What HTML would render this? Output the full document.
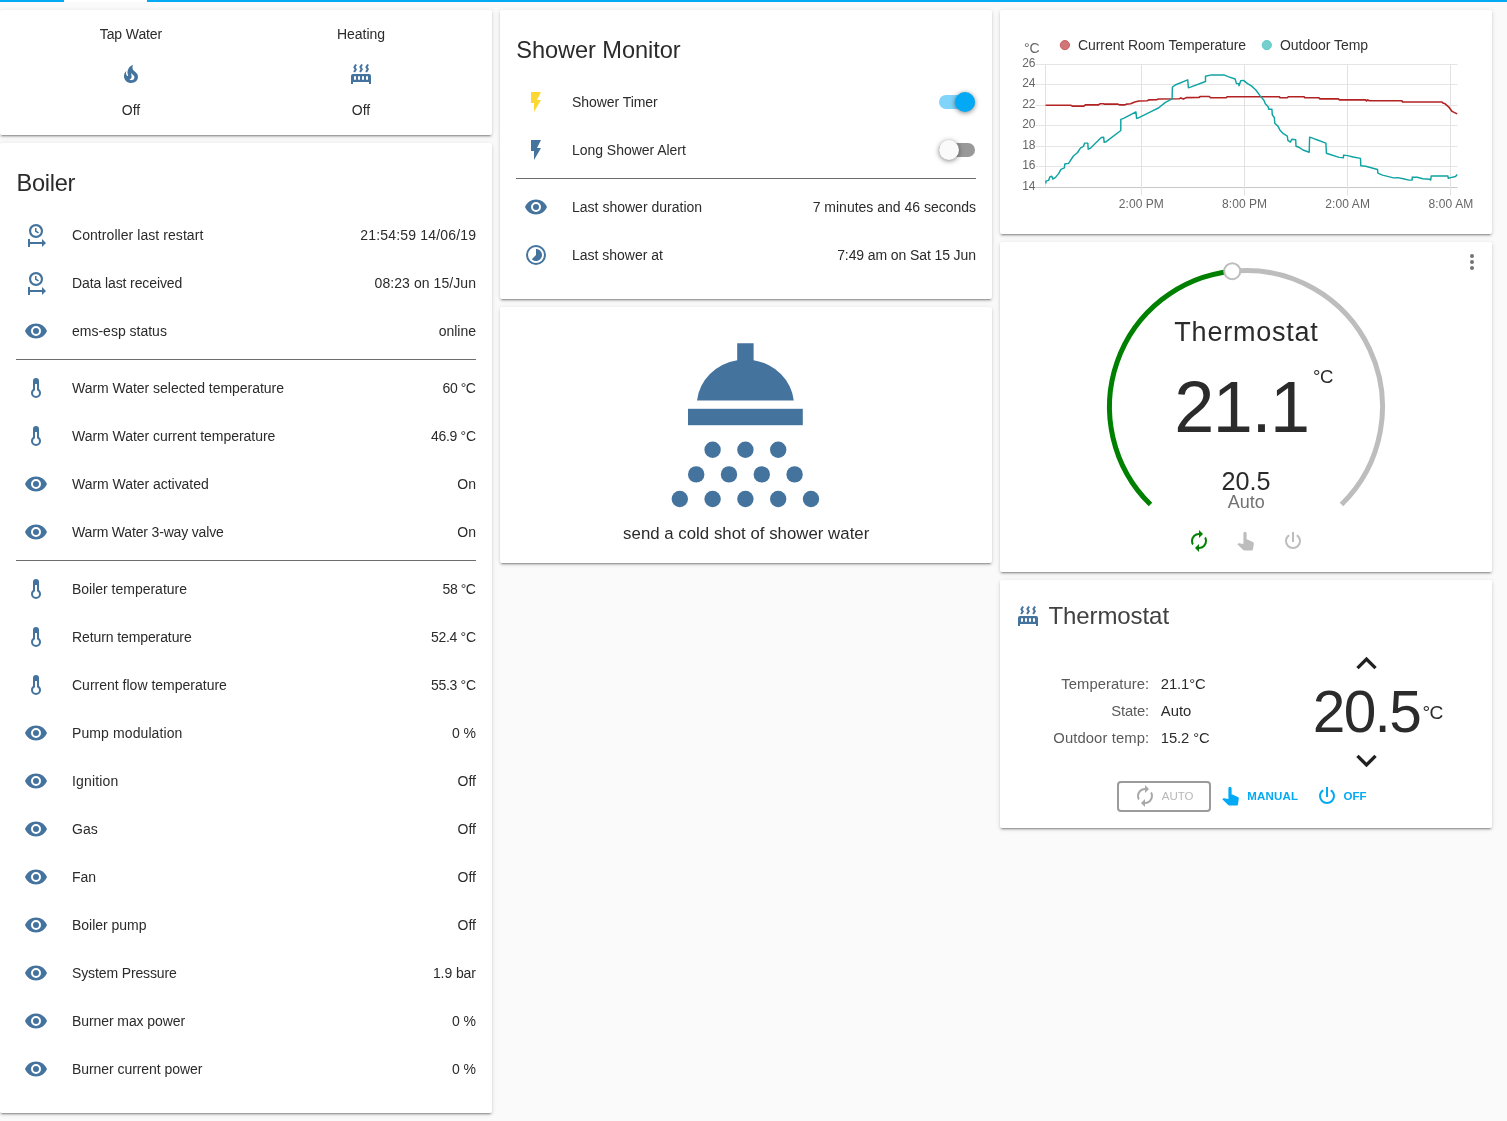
<!DOCTYPE html><html lang="en"><head><meta charset="utf-8"><title>Home Assistant - Boiler</title><style>
*{box-sizing:border-box;margin:0;padding:0}
html,body{width:1507px;height:1121px;overflow:hidden;background:#fafafa}
body{font-family:"Liberation Sans",sans-serif;position:relative;-webkit-font-smoothing:antialiased}
.bar{position:absolute;left:0;top:0;width:1507px;height:2px;background:#03a9f4}
.bar i{position:absolute;left:64px;top:0;width:83px;height:2px;background:#fff}
.card{position:absolute;background:#fff;border-radius:2px;box-shadow:0 2px 2px 0 rgba(0,0,0,.14),0 1px 5px 0 rgba(0,0,0,.12),0 3px 1px -2px rgba(0,0,0,.2)}
.t{position:absolute;white-space:nowrap}
.ic{position:absolute;display:block}
.hr{position:absolute;height:1px}
h2.t{font-weight:400}
.tg{position:absolute;width:36px;height:14px}
.tg i{position:absolute;left:0;top:0;width:36px;height:14px;border-radius:8px}
.tg b{position:absolute;top:-3px;width:20px;height:20px;border-radius:50%;box-shadow:0 1px 5px 0 rgba(0,0,0,.5)}
.btn{position:absolute;border:2px solid #9b9b9b;border-radius:4px}
</style></head><body>
<header class="bar"><i></i></header>
<section class="card glance" style="left:0px;top:10px;width:492px;height:125px">
<span class="t " style="top:14.80px;font-size:14px;line-height:18px;color:#2b2b2b;letter-spacing:-0.109px;left:130.945px;transform:translateX(-50%);">Tap Water</span>
<svg class="ic" style="left:119px;top:52px;width:24px;height:24px" viewBox="0 0 24 24"><path fill="#44739e" d="M17.66,11.2C17.43,10.9 17.15,10.64 16.89,10.38C16.22,9.78 15.46,9.35 14.82,8.72C13.33,7.26 13,4.85 13.95,3C13,3.23 12.17,3.75 11.46,4.32C8.87,6.4 7.85,10.07 9.07,13.22C9.11,13.32 9.15,13.42 9.15,13.55C9.15,13.77 9,13.97 8.8,14.05C8.57,14.15 8.33,14.09 8.14,13.93C8.08,13.88 8.04,13.83 8,13.76C6.87,12.33 6.69,10.28 7.45,8.64C5.78,10 4.87,12.3 5,14.47C5.06,14.97 5.12,15.47 5.29,15.97C5.43,16.57 5.7,17.17 6,17.7C7.08,19.43 8.95,20.67 10.96,20.92C13.1,21.19 15.39,20.8 17.03,19.32C18.86,17.66 19.5,15 18.56,12.72L18.43,12.46C18.22,12 17.66,11.2 17.66,11.2M14.5,17.5C14.22,17.74 13.76,18 13.4,18.1C12.28,18.5 11.16,17.94 10.5,17.28C11.69,17 12.4,16.12 12.61,15.23C12.78,14.43 12.46,13.77 12.33,13C12.21,12.26 12.23,11.63 12.5,10.94C12.69,11.32 12.89,11.7 13.13,12C13.9,13 15.11,13.44 15.37,14.8C15.41,14.94 15.43,15.08 15.43,15.23C15.46,16.05 15.1,16.95 14.5,17.5H14.5Z"/></svg>
<span class="t " style="top:90.50px;font-size:14px;line-height:18px;color:#2b2b2b;left:131px;transform:translateX(-50%);">Off</span>
<span class="t " style="top:14.80px;font-size:14px;line-height:18px;color:#2b2b2b;letter-spacing:-0.009px;left:360.995px;transform:translateX(-50%);">Heating</span>
<svg class="ic" style="left:349px;top:52px;width:24px;height:24px" viewBox="0 0 24 24"><path fill="#44739e" d="M7.95,3L6.53,5.19L7.95,7.4H7.94L5.95,10.5L4.22,9.6L5.64,7.39L4.22,5.19L6.22,2.09L7.95,3M13.95,2.89L12.53,5.1L13.95,7.3L13.94,7.31L11.95,10.4L10.22,9.5L11.64,7.3L10.22,5.1L12.22,2L13.95,2.89M20,2.89L18.56,5.1L20,7.3V7.31L18,10.4L16.25,9.5L17.67,7.3L16.25,5.1L18.25,2L20,2.89M2,22V14A2,2 0 0,1 4,12H20A2,2 0 0,1 22,14V22H20V20H4V22H2M6,14A1,1 0 0,0 5,15V17A1,1 0 0,0 6,18A1,1 0 0,0 7,17V15A1,1 0 0,0 6,14M10,14A1,1 0 0,0 9,15V17A1,1 0 0,0 10,18A1,1 0 0,0 11,17V15A1,1 0 0,0 10,14M14,14A1,1 0 0,0 13,15V17A1,1 0 0,0 14,18A1,1 0 0,0 15,17V15A1,1 0 0,0 14,14M18,14A1,1 0 0,0 17,15V17A1,1 0 0,0 18,18A1,1 0 0,0 19,17V15A1,1 0 0,0 18,14Z"/></svg>
<span class="t " style="top:90.50px;font-size:14px;line-height:18px;color:#2b2b2b;left:361px;transform:translateX(-50%);">Off</span>
</section>
<section class="card entities" style="left:0px;top:143px;width:492px;height:970px">
<h2 class="t " style="top:25.00px;font-size:23.6px;line-height:31px;color:#2b2b2b;letter-spacing:-0.271px;left:16.5px;">Boiler</h2>
<svg class="ic" style="left:24px;top:80px;width:24px;height:24px" viewBox="0 0 24 24"><path fill="#44739e" d="M12,1C8.14,1 5,4.14 5,8A7,7 0 0,0 12,15C15.86,15 19,11.86 19,8C19,4.14 15.86,1 12,1M12,3.15C14.67,3.15 16.85,5.32 16.85,8C16.85,10.68 14.67,12.85 12,12.85A4.85,4.85 0 0,1 7.15,8A4.85,4.85 0 0,1 12,3.15M11,5V8.69L14.19,10.53L14.94,9.23L12.5,7.82V5M4,16V24H6V21H18V24L22,20L18,16V19H6V16"/></svg>
<span class="t " style="top:83.00px;font-size:14px;line-height:18px;color:#2b2b2b;letter-spacing:0.064px;left:72px;">Controller last restart</span>
<span class="t " style="top:83.00px;font-size:14px;line-height:18px;color:#2b2b2b;letter-spacing:0.171px;left:476.171px;transform:translateX(-100%);">21:54:59 14/06/19</span>
<svg class="ic" style="left:24px;top:128px;width:24px;height:24px" viewBox="0 0 24 24"><path fill="#44739e" d="M12,1C8.14,1 5,4.14 5,8A7,7 0 0,0 12,15C15.86,15 19,11.86 19,8C19,4.14 15.86,1 12,1M12,3.15C14.67,3.15 16.85,5.32 16.85,8C16.85,10.68 14.67,12.85 12,12.85A4.85,4.85 0 0,1 7.15,8A4.85,4.85 0 0,1 12,3.15M11,5V8.69L14.19,10.53L14.94,9.23L12.5,7.82V5M4,16V24H6V21H18V24L22,20L18,16V19H6V16"/></svg>
<span class="t " style="top:131.00px;font-size:14px;line-height:18px;color:#2b2b2b;letter-spacing:-0.103px;left:72px;">Data last received</span>
<span class="t " style="top:131.00px;font-size:14px;line-height:18px;color:#2b2b2b;letter-spacing:0.072px;left:476.072px;transform:translateX(-100%);">08:23 on 15/Jun</span>
<svg class="ic" style="left:24px;top:176px;width:24px;height:24px" viewBox="0 0 24 24"><path fill="#44739e" d="M12,9A3,3 0 0,0 9,12A3,3 0 0,0 12,15A3,3 0 0,0 15,12A3,3 0 0,0 12,9M12,17A5,5 0 0,1 7,12A5,5 0 0,1 12,7A5,5 0 0,1 17,12A5,5 0 0,1 12,17M12,4.5C7,4.5 2.73,7.61 1,12C2.73,16.39 7,19.5 12,19.5C17,19.5 21.27,16.39 23,12C21.27,7.61 17,4.5 12,4.5Z"/></svg>
<span class="t " style="top:179.00px;font-size:14px;line-height:18px;color:#2b2b2b;letter-spacing:-0.003px;left:72px;">ems-esp status</span>
<span class="t " style="top:179.00px;font-size:14px;line-height:18px;color:#2b2b2b;letter-spacing:-0.029px;left:475.971px;transform:translateX(-100%);">online</span>
<div class="hr" style="left:16px;top:216px;width:460px;background:#6d6d6d"></div>
<svg class="ic" style="left:24px;top:233px;width:24px;height:24px" viewBox="0 0 24 24"><path fill="#44739e" d="M17,17A5,5 0 0,1 12,22A5,5 0 0,1 7,17C7,15.36 7.79,13.91 9,13V5A3,3 0 0,1 12,2A3,3 0 0,1 15,5V13C16.21,13.91 17,15.36 17,17M11,8V14.17C9.83,14.58 9,15.69 9,17A3,3 0 0,0 12,20A3,3 0 0,0 15,17C15,15.69 14.17,14.58 13,14.17V8H11Z"/></svg>
<span class="t " style="top:236.00px;font-size:14px;line-height:18px;color:#2b2b2b;letter-spacing:-0.030px;left:72px;">Warm Water selected temperature</span>
<span class="t " style="top:236.00px;font-size:14px;line-height:18px;color:#2b2b2b;letter-spacing:-0.434px;left:475.566px;transform:translateX(-100%);">60 °C</span>
<svg class="ic" style="left:24px;top:281px;width:24px;height:24px" viewBox="0 0 24 24"><path fill="#44739e" d="M17,17A5,5 0 0,1 12,22A5,5 0 0,1 7,17C7,15.36 7.79,13.91 9,13V5A3,3 0 0,1 12,2A3,3 0 0,1 15,5V13C16.21,13.91 17,15.36 17,17M11,8V14.17C9.83,14.58 9,15.69 9,17A3,3 0 0,0 12,20A3,3 0 0,0 15,17C15,15.69 14.17,14.58 13,14.17V8H11Z"/></svg>
<span class="t " style="top:284.00px;font-size:14px;line-height:18px;color:#2b2b2b;letter-spacing:-0.035px;left:72px;">Warm Water current temperature</span>
<span class="t " style="top:284.00px;font-size:14px;line-height:18px;color:#2b2b2b;letter-spacing:-0.323px;left:475.677px;transform:translateX(-100%);">46.9 °C</span>
<svg class="ic" style="left:24px;top:329px;width:24px;height:24px" viewBox="0 0 24 24"><path fill="#44739e" d="M12,9A3,3 0 0,0 9,12A3,3 0 0,0 12,15A3,3 0 0,0 15,12A3,3 0 0,0 12,9M12,17A5,5 0 0,1 7,12A5,5 0 0,1 12,7A5,5 0 0,1 17,12A5,5 0 0,1 12,17M12,4.5C7,4.5 2.73,7.61 1,12C2.73,16.39 7,19.5 12,19.5C17,19.5 21.27,16.39 23,12C21.27,7.61 17,4.5 12,4.5Z"/></svg>
<span class="t " style="top:332.00px;font-size:14px;line-height:18px;color:#2b2b2b;letter-spacing:-0.037px;left:72px;">Warm Water activated</span>
<span class="t " style="top:332.00px;font-size:14px;line-height:18px;color:#2b2b2b;left:476px;transform:translateX(-100%);">On</span>
<svg class="ic" style="left:24px;top:377px;width:24px;height:24px" viewBox="0 0 24 24"><path fill="#44739e" d="M12,9A3,3 0 0,0 9,12A3,3 0 0,0 12,15A3,3 0 0,0 15,12A3,3 0 0,0 12,9M12,17A5,5 0 0,1 7,12A5,5 0 0,1 12,7A5,5 0 0,1 17,12A5,5 0 0,1 12,17M12,4.5C7,4.5 2.73,7.61 1,12C2.73,16.39 7,19.5 12,19.5C17,19.5 21.27,16.39 23,12C21.27,7.61 17,4.5 12,4.5Z"/></svg>
<span class="t " style="top:380.00px;font-size:14px;line-height:18px;color:#2b2b2b;letter-spacing:-0.169px;left:72px;">Warm Water 3-way valve</span>
<span class="t " style="top:380.00px;font-size:14px;line-height:18px;color:#2b2b2b;left:476px;transform:translateX(-100%);">On</span>
<div class="hr" style="left:16px;top:417px;width:460px;background:#6d6d6d"></div>
<svg class="ic" style="left:24px;top:434px;width:24px;height:24px" viewBox="0 0 24 24"><path fill="#44739e" d="M17,17A5,5 0 0,1 12,22A5,5 0 0,1 7,17C7,15.36 7.79,13.91 9,13V5A3,3 0 0,1 12,2A3,3 0 0,1 15,5V13C16.21,13.91 17,15.36 17,17M11,8V14.17C9.83,14.58 9,15.69 9,17A3,3 0 0,0 12,20A3,3 0 0,0 15,17C15,15.69 14.17,14.58 13,14.17V8H11Z"/></svg>
<span class="t " style="top:437.00px;font-size:14px;line-height:18px;color:#2b2b2b;letter-spacing:-0.010px;left:72px;">Boiler temperature</span>
<span class="t " style="top:437.00px;font-size:14px;line-height:18px;color:#2b2b2b;letter-spacing:-0.434px;left:475.566px;transform:translateX(-100%);">58 °C</span>
<svg class="ic" style="left:24px;top:482px;width:24px;height:24px" viewBox="0 0 24 24"><path fill="#44739e" d="M17,17A5,5 0 0,1 12,22A5,5 0 0,1 7,17C7,15.36 7.79,13.91 9,13V5A3,3 0 0,1 12,2A3,3 0 0,1 15,5V13C16.21,13.91 17,15.36 17,17M11,8V14.17C9.83,14.58 9,15.69 9,17A3,3 0 0,0 12,20A3,3 0 0,0 15,17C15,15.69 14.17,14.58 13,14.17V8H11Z"/></svg>
<span class="t " style="top:485.00px;font-size:14px;line-height:18px;color:#2b2b2b;letter-spacing:-0.100px;left:72px;">Return temperature</span>
<span class="t " style="top:485.00px;font-size:14px;line-height:18px;color:#2b2b2b;letter-spacing:-0.323px;left:475.677px;transform:translateX(-100%);">52.4 °C</span>
<svg class="ic" style="left:24px;top:530px;width:24px;height:24px" viewBox="0 0 24 24"><path fill="#44739e" d="M17,17A5,5 0 0,1 12,22A5,5 0 0,1 7,17C7,15.36 7.79,13.91 9,13V5A3,3 0 0,1 12,2A3,3 0 0,1 15,5V13C16.21,13.91 17,15.36 17,17M11,8V14.17C9.83,14.58 9,15.69 9,17A3,3 0 0,0 12,20A3,3 0 0,0 15,17C15,15.69 14.17,14.58 13,14.17V8H11Z"/></svg>
<span class="t " style="top:533.00px;font-size:14px;line-height:18px;color:#2b2b2b;letter-spacing:0.002px;left:72px;">Current flow temperature</span>
<span class="t " style="top:533.00px;font-size:14px;line-height:18px;color:#2b2b2b;letter-spacing:-0.323px;left:475.677px;transform:translateX(-100%);">55.3 °C</span>
<svg class="ic" style="left:24px;top:578px;width:24px;height:24px" viewBox="0 0 24 24"><path fill="#44739e" d="M12,9A3,3 0 0,0 9,12A3,3 0 0,0 12,15A3,3 0 0,0 15,12A3,3 0 0,0 12,9M12,17A5,5 0 0,1 7,12A5,5 0 0,1 12,7A5,5 0 0,1 17,12A5,5 0 0,1 12,17M12,4.5C7,4.5 2.73,7.61 1,12C2.73,16.39 7,19.5 12,19.5C17,19.5 21.27,16.39 23,12C21.27,7.61 17,4.5 12,4.5Z"/></svg>
<span class="t " style="top:581.00px;font-size:14px;line-height:18px;color:#2b2b2b;letter-spacing:0.103px;left:72px;">Pump modulation</span>
<span class="t " style="top:581.00px;font-size:14px;line-height:18px;color:#2b2b2b;left:476px;transform:translateX(-100%);">0 %</span>
<svg class="ic" style="left:24px;top:626px;width:24px;height:24px" viewBox="0 0 24 24"><path fill="#44739e" d="M12,9A3,3 0 0,0 9,12A3,3 0 0,0 12,15A3,3 0 0,0 15,12A3,3 0 0,0 12,9M12,17A5,5 0 0,1 7,12A5,5 0 0,1 12,7A5,5 0 0,1 17,12A5,5 0 0,1 12,17M12,4.5C7,4.5 2.73,7.61 1,12C2.73,16.39 7,19.5 12,19.5C17,19.5 21.27,16.39 23,12C21.27,7.61 17,4.5 12,4.5Z"/></svg>
<span class="t " style="top:629.00px;font-size:14px;line-height:18px;color:#2b2b2b;letter-spacing:0.155px;left:72px;">Ignition</span>
<span class="t " style="top:629.00px;font-size:14px;line-height:18px;color:#2b2b2b;left:476px;transform:translateX(-100%);">Off</span>
<svg class="ic" style="left:24px;top:674px;width:24px;height:24px" viewBox="0 0 24 24"><path fill="#44739e" d="M12,9A3,3 0 0,0 9,12A3,3 0 0,0 12,15A3,3 0 0,0 15,12A3,3 0 0,0 12,9M12,17A5,5 0 0,1 7,12A5,5 0 0,1 12,7A5,5 0 0,1 17,12A5,5 0 0,1 12,17M12,4.5C7,4.5 2.73,7.61 1,12C2.73,16.39 7,19.5 12,19.5C17,19.5 21.27,16.39 23,12C21.27,7.61 17,4.5 12,4.5Z"/></svg>
<span class="t " style="top:677.00px;font-size:14px;line-height:18px;color:#2b2b2b;left:72px;">Gas</span>
<span class="t " style="top:677.00px;font-size:14px;line-height:18px;color:#2b2b2b;left:476px;transform:translateX(-100%);">Off</span>
<svg class="ic" style="left:24px;top:722px;width:24px;height:24px" viewBox="0 0 24 24"><path fill="#44739e" d="M12,9A3,3 0 0,0 9,12A3,3 0 0,0 12,15A3,3 0 0,0 15,12A3,3 0 0,0 12,9M12,17A5,5 0 0,1 7,12A5,5 0 0,1 12,7A5,5 0 0,1 17,12A5,5 0 0,1 12,17M12,4.5C7,4.5 2.73,7.61 1,12C2.73,16.39 7,19.5 12,19.5C17,19.5 21.27,16.39 23,12C21.27,7.61 17,4.5 12,4.5Z"/></svg>
<span class="t " style="top:725.00px;font-size:14px;line-height:18px;color:#2b2b2b;left:72px;">Fan</span>
<span class="t " style="top:725.00px;font-size:14px;line-height:18px;color:#2b2b2b;left:476px;transform:translateX(-100%);">Off</span>
<svg class="ic" style="left:24px;top:770px;width:24px;height:24px" viewBox="0 0 24 24"><path fill="#44739e" d="M12,9A3,3 0 0,0 9,12A3,3 0 0,0 12,15A3,3 0 0,0 15,12A3,3 0 0,0 12,9M12,17A5,5 0 0,1 7,12A5,5 0 0,1 12,7A5,5 0 0,1 17,12A5,5 0 0,1 12,17M12,4.5C7,4.5 2.73,7.61 1,12C2.73,16.39 7,19.5 12,19.5C17,19.5 21.27,16.39 23,12C21.27,7.61 17,4.5 12,4.5Z"/></svg>
<span class="t " style="top:773.00px;font-size:14px;line-height:18px;color:#2b2b2b;letter-spacing:-0.018px;left:72px;">Boiler pump</span>
<span class="t " style="top:773.00px;font-size:14px;line-height:18px;color:#2b2b2b;left:476px;transform:translateX(-100%);">Off</span>
<svg class="ic" style="left:24px;top:818px;width:24px;height:24px" viewBox="0 0 24 24"><path fill="#44739e" d="M12,9A3,3 0 0,0 9,12A3,3 0 0,0 12,15A3,3 0 0,0 15,12A3,3 0 0,0 12,9M12,17A5,5 0 0,1 7,12A5,5 0 0,1 12,7A5,5 0 0,1 17,12A5,5 0 0,1 12,17M12,4.5C7,4.5 2.73,7.61 1,12C2.73,16.39 7,19.5 12,19.5C17,19.5 21.27,16.39 23,12C21.27,7.61 17,4.5 12,4.5Z"/></svg>
<span class="t " style="top:821.00px;font-size:14px;line-height:18px;color:#2b2b2b;letter-spacing:-0.126px;left:72px;">System Pressure</span>
<span class="t " style="top:821.00px;font-size:14px;line-height:18px;color:#2b2b2b;letter-spacing:-0.085px;left:475.915px;transform:translateX(-100%);">1.9 bar</span>
<svg class="ic" style="left:24px;top:866px;width:24px;height:24px" viewBox="0 0 24 24"><path fill="#44739e" d="M12,9A3,3 0 0,0 9,12A3,3 0 0,0 12,15A3,3 0 0,0 15,12A3,3 0 0,0 12,9M12,17A5,5 0 0,1 7,12A5,5 0 0,1 12,7A5,5 0 0,1 17,12A5,5 0 0,1 12,17M12,4.5C7,4.5 2.73,7.61 1,12C2.73,16.39 7,19.5 12,19.5C17,19.5 21.27,16.39 23,12C21.27,7.61 17,4.5 12,4.5Z"/></svg>
<span class="t " style="top:869.00px;font-size:14px;line-height:18px;color:#2b2b2b;letter-spacing:-0.087px;left:72px;">Burner max power</span>
<span class="t " style="top:869.00px;font-size:14px;line-height:18px;color:#2b2b2b;left:476px;transform:translateX(-100%);">0 %</span>
<svg class="ic" style="left:24px;top:914px;width:24px;height:24px" viewBox="0 0 24 24"><path fill="#44739e" d="M12,9A3,3 0 0,0 9,12A3,3 0 0,0 12,15A3,3 0 0,0 15,12A3,3 0 0,0 12,9M12,17A5,5 0 0,1 7,12A5,5 0 0,1 12,7A5,5 0 0,1 17,12A5,5 0 0,1 12,17M12,4.5C7,4.5 2.73,7.61 1,12C2.73,16.39 7,19.5 12,19.5C17,19.5 21.27,16.39 23,12C21.27,7.61 17,4.5 12,4.5Z"/></svg>
<span class="t " style="top:917.00px;font-size:14px;line-height:18px;color:#2b2b2b;letter-spacing:-0.061px;left:72px;">Burner current power</span>
<span class="t " style="top:917.00px;font-size:14px;line-height:18px;color:#2b2b2b;left:476px;transform:translateX(-100%);">0 %</span>
</section>
<section class="card entities" style="left:500px;top:10px;width:492px;height:289px">
<h2 class="t " style="top:25.00px;font-size:23.6px;line-height:31px;color:#2b2b2b;letter-spacing:-0.074px;left:16.3px;">Shower Monitor</h2>
<svg class="ic" style="left:24px;top:80px;width:24px;height:24px" viewBox="0 0 24 24"><path fill="#fdd835" d="M7,2V13H10V22L17,10H13L17,2H7Z"/></svg>
<span class="t " style="top:83.00px;font-size:14px;line-height:18px;color:#2b2b2b;letter-spacing:-0.063px;left:72px;">Shower Timer</span>
<div class="tg" style="left:439px;top:85px"><i style="background:#03a9f4;opacity:.5"></i><b style="left:16px;background:#03a9f4"></b></div>
<svg class="ic" style="left:24px;top:128px;width:24px;height:24px" viewBox="0 0 24 24"><path fill="#44739e" d="M7,2V13H10V22L17,10H13L17,2H7Z"/></svg>
<span class="t " style="top:131.00px;font-size:14px;line-height:18px;color:#2b2b2b;letter-spacing:-0.036px;left:72px;">Long Shower Alert</span>
<div class="tg" style="left:439px;top:133px"><i style="background:#000;opacity:.4"></i><b style="left:0;background:#fafafa"></b></div>
<div class="hr" style="left:16px;top:168px;width:460px;background:#6d6d6d"></div>
<svg class="ic" style="left:24px;top:185px;width:24px;height:24px" viewBox="0 0 24 24"><path fill="#44739e" d="M12,9A3,3 0 0,0 9,12A3,3 0 0,0 12,15A3,3 0 0,0 15,12A3,3 0 0,0 12,9M12,17A5,5 0 0,1 7,12A5,5 0 0,1 12,7A5,5 0 0,1 17,12A5,5 0 0,1 12,17M12,4.5C7,4.5 2.73,7.61 1,12C2.73,16.39 7,19.5 12,19.5C17,19.5 21.27,16.39 23,12C21.27,7.61 17,4.5 12,4.5Z"/></svg>
<span class="t " style="top:188.00px;font-size:14px;line-height:18px;color:#2b2b2b;letter-spacing:0.007px;left:72px;">Last shower duration</span>
<span class="t " style="top:188.00px;font-size:14px;line-height:18px;color:#2b2b2b;letter-spacing:-0.006px;left:475.994px;transform:translateX(-100%);">7 minutes and 46 seconds</span>
<svg class="ic" style="left:24px;top:233px;width:24px;height:24px" viewBox="0 0 24 24"><path fill="#44739e" d="M16.24,7.76C15.07,6.58 13.53,6 12,6V12L7.76,16.24C10.1,18.58 13.9,18.58 16.24,16.24C18.59,13.9 18.59,10.1 16.24,7.76M12,2A10,10 0 0,0 2,12A10,10 0 0,0 12,22A10,10 0 0,0 22,12A10,10 0 0,0 12,2M12,20A8,8 0 0,1 4,12A8,8 0 0,1 12,4A8,8 0 0,1 20,12A8,8 0 0,1 12,20Z"/></svg>
<span class="t " style="top:236.00px;font-size:14px;line-height:18px;color:#2b2b2b;letter-spacing:-0.012px;left:72px;">Last shower at</span>
<span class="t " style="top:236.00px;font-size:14px;line-height:18px;color:#2b2b2b;letter-spacing:-0.104px;left:475.896px;transform:translateX(-100%);">7:49 am on Sat 15 Jun</span>
</section>
<section class="card button" style="left:500px;top:307px;width:492px;height:256px">
<svg class="ic" style="left:147.4px;top:28.2px;width:196.8px;height:196.8px" viewBox="0 0 24 24" fill="#44739e"><path d="M11,1H13V3.07A5.95,5.6 0 0,1 17.9,8H6.1A5.95,5.6 0 0,1 11,3.07Z"/><rect x="5" y="9" width="14" height="2"/><circle cx="8" cy="14" r="1"/><circle cx="12" cy="14" r="1"/><circle cx="16" cy="14" r="1"/><circle cx="6" cy="17" r="1"/><circle cx="10" cy="17" r="1"/><circle cx="14" cy="17" r="1"/><circle cx="18" cy="17" r="1"/><circle cx="4" cy="20" r="1"/><circle cx="8" cy="20" r="1"/><circle cx="12" cy="20" r="1"/><circle cx="16" cy="20" r="1"/><circle cx="20" cy="20" r="1"/></svg>
<span class="t " style="top:215.90px;font-size:16.8px;line-height:22px;color:#2b2b2b;letter-spacing:0.027px;left:246.214px;transform:translateX(-50%);">send a cold shot of shower water</span>
</section>
<section class="card graph" style="left:1000px;top:10px;width:492px;height:224px">
<svg class="ic" style="left:0;top:0;width:492px;height:223px" viewBox="0 0 492 223"><line x1="35.5" x2="457.5" y1="54.5" y2="54.5" stroke="#e5e5e5"/><line x1="35.5" x2="457.5" y1="74.5" y2="74.5" stroke="#e5e5e5"/><line x1="35.5" x2="457.5" y1="95.5" y2="95.5" stroke="#e5e5e5"/><line x1="35.5" x2="457.5" y1="115.5" y2="115.5" stroke="#e5e5e5"/><line x1="35.5" x2="457.5" y1="136.5" y2="136.5" stroke="#e5e5e5"/><line x1="35.5" x2="457.5" y1="156.5" y2="156.5" stroke="#e5e5e5"/><line x1="35.5" x2="457.5" y1="177.5" y2="177.5" stroke="#c8c8c8"/><line x1="45.5" x2="45.5" y1="54.5" y2="177.5" stroke="#e2e2e2"/><line x1="141.5" x2="141.5" y1="54.5" y2="185.5" stroke="#e2e2e2"/><line x1="244.5" x2="244.5" y1="54.5" y2="185.5" stroke="#e2e2e2"/><line x1="347.5" x2="347.5" y1="54.5" y2="185.5" stroke="#e2e2e2"/><line x1="450.5" x2="450.5" y1="54.5" y2="185.5" stroke="#e2e2e2"/><polyline points="45.6,95.2 70.7,95.2 72.3,96.1 83.9,96.1 85.3,94.9 98.5,94.9 99.9,93.8 103.4,93.8 104.1,94.1 118.0,94.1 119.4,94.9 125.0,94.9 126.4,94.1 130.6,93.8 134.8,92.0 138.9,91.0 147.3,90.7 148.7,89.9 157.1,89.6 158.4,89.0 179.3,88.8 180.7,87.9 183.5,89.0 186.3,87.6 198.9,87.5 200.3,86.5 209.3,86.5 210.7,87.8 226.0,87.8 227.4,86.7 250.0,86.7 279.3,86.7 280.0,87.8 287.3,87.8 288.3,86.7 304.1,86.7 304.8,87.8 319.0,87.8 319.7,88.9 338.5,88.9 339.2,89.9 365.7,89.9 366.4,91.0 367.8,89.9 369.1,90.7 401.9,90.7 402.6,92.0 442.0,92.0 443.0,93.1 445.1,93.8 448.6,96.8 452.1,101.4 454.1,102.4 457.2,103.9" fill="none" stroke="#b22222" stroke-width="1.6" stroke-linejoin="round"/><polyline points="45.9,173.5 45.9,171.1 48.6,170.4 49.8,166.9 51.8,166.2 52.8,169.0 55.3,167.6 58.8,163.4 60.9,159.3 64.4,157.9 64.8,154.0 68.6,153.4 73.4,146.0 77.6,142.5 80.4,138.1 83.5,136.3 84.6,133.1 87.8,133.1 88.2,139.2 90.2,138.4 95.7,133.1 101.3,127.5 103.7,127.2 104.1,132.2 106.2,131.7 120.8,120.5 120.8,109.4 123.6,108.4 135.9,101.9 136.6,108.4 138.9,107.7 151.5,101.4 158.4,98.0 165.4,92.4 172.1,88.9 172.4,77.1 175.2,75.0 187.7,69.8 188.4,77.7 190.5,77.1 205.5,71.5 205.5,66.2 211.4,64.9 223.9,64.9 228.1,66.6 235.1,69.0 236.5,73.6 238.6,73.6 239.0,75.7 240.7,70.8 243.5,70.4 247.6,73.6 250.0,75.0 251.4,75.9 255.6,79.8 259.8,85.4 263.9,90.3 265.3,93.8 268.1,96.8 268.8,99.3 271.9,99.3 272.3,104.9 274.4,107.7 274.8,113.3 277.9,116.1 280.0,120.2 283.4,123.7 287.3,126.1 287.9,130.3 290.4,132.1 291.8,129.3 295.7,129.7 296.0,136.3 298.8,137.2 303.0,140.0 309.2,142.3 309.6,127.2 312.0,127.9 315.5,129.3 325.9,133.1 326.4,143.2 329.4,144.2 339.2,147.4 343.4,147.8 343.6,145.1 347.5,145.6 353.1,147.0 360.5,148.4 360.8,155.8 365.7,156.2 377.5,159.5 377.9,163.2 382.4,165.1 393.5,167.9 397.7,167.6 403.3,168.7 408.9,170.1 412.1,170.1 412.3,167.1 417.2,167.3 422.8,168.7 429.8,169.3 430.7,170.1 431.2,166.0 447.9,166.0 448.2,168.2 450.7,167.6 455.5,166.5 457.2,164.6" fill="none" stroke="#0fa3a3" stroke-width="1.45" stroke-linejoin="round"/><circle cx="64.9" cy="35.1" r="4.6" fill="#d17676" stroke="#c86060" stroke-width="1"/><circle cx="266.8" cy="35.1" r="4.6" fill="#74cfcf" stroke="#62c8c8" stroke-width="1"/></svg>
<span class="t " style="top:29.20px;font-size:14px;line-height:18px;color:#666;left:24px;">°C</span>
<span class="t " style="top:44.70px;font-size:12px;line-height:16px;color:#666;left:35.5px;transform:translateX(-100%);">26</span>
<span class="t " style="top:65.25px;font-size:12px;line-height:16px;color:#666;left:35.5px;transform:translateX(-100%);">24</span>
<span class="t " style="top:85.80px;font-size:12px;line-height:16px;color:#666;left:35.5px;transform:translateX(-100%);">22</span>
<span class="t " style="top:106.35px;font-size:12px;line-height:16px;color:#666;left:35.5px;transform:translateX(-100%);">20</span>
<span class="t " style="top:126.90px;font-size:12px;line-height:16px;color:#666;left:35.5px;transform:translateX(-100%);">18</span>
<span class="t " style="top:147.45px;font-size:12px;line-height:16px;color:#666;left:35.5px;transform:translateX(-100%);">16</span>
<span class="t " style="top:168.00px;font-size:12px;line-height:16px;color:#666;left:35.5px;transform:translateX(-100%);">14</span>
<span class="t " style="top:185.90px;font-size:12px;line-height:16px;color:#666;letter-spacing:0.042px;left:141.321px;transform:translateX(-50%);">2:00 PM</span>
<span class="t " style="top:185.90px;font-size:12px;line-height:16px;color:#666;letter-spacing:0.042px;left:244.621px;transform:translateX(-50%);">8:00 PM</span>
<span class="t " style="top:185.90px;font-size:12px;line-height:16px;color:#666;letter-spacing:0.138px;left:347.669px;transform:translateX(-50%);">2:00 AM</span>
<span class="t " style="top:185.90px;font-size:12px;line-height:16px;color:#666;letter-spacing:0.138px;left:450.969px;transform:translateX(-50%);">8:00 AM</span>
<span class="t " style="top:25.60px;font-size:14px;line-height:18px;color:#333;letter-spacing:-0.094px;left:78.1px;">Current Room Temperature</span>
<span class="t " style="top:25.60px;font-size:14px;line-height:18px;color:#333;letter-spacing:-0.031px;left:280px;">Outdoor Temp</span>
</section>
<section class="card thermostat" style="left:1000px;top:242px;width:492px;height:330px">
<svg class="ic" style="left:0;top:0;width:492px;height:330px" viewBox="0 0 492 330" fill="none"><path d="M232.21,29.20A136.5,136.5 0 0,1 341.50,262.53" stroke="#bdbdbd" stroke-width="5"/><path d="M150.50,262.53A136.5,136.5 0 0,1 232.21,29.20" stroke="#008000" stroke-width="5"/><circle cx="232.21" cy="29.20" r="8" fill="#fff" stroke="#bdbdbd" stroke-width="2"/></svg>
<svg class="ic" style="left:460px;top:8px;width:24px;height:24px" viewBox="0 0 24 24"><path fill="#727272" d="M12,16A2,2 0 0,1 14,18A2,2 0 0,1 12,20A2,2 0 0,1 10,18A2,2 0 0,1 12,16M12,10A2,2 0 0,1 14,12A2,2 0 0,1 12,14A2,2 0 0,1 10,12A2,2 0 0,1 12,10M12,4A2,2 0 0,1 14,6A2,2 0 0,1 12,8A2,2 0 0,1 10,6A2,2 0 0,1 12,4Z"/></svg>
<span class="t " style="top:72.90px;font-size:27px;line-height:35px;color:#2b2b2b;letter-spacing:0.765px;left:246.483px;transform:translateX(-50%);">Thermostat</span>
<span class="t " style="top:118.10px;font-size:72px;line-height:94px;color:#2b2b2b;letter-spacing:-1.500px;left:174.3px;">21.1</span>
<span class="t " style="top:123.00px;font-size:18.6px;line-height:24px;color:#2b2b2b;letter-spacing:-0.500px;left:313px;">°C</span>
<span class="t " style="top:222.50px;font-size:25.2px;line-height:33px;color:#2b2b2b;left:246.1px;transform:translateX(-50%);">20.5</span>
<span class="t " style="top:249.20px;font-size:18px;line-height:23px;color:#727272;left:246.3px;transform:translateX(-50%);">Auto</span>
<svg class="ic" style="left:187.2px;top:286.5px;width:24px;height:24px" viewBox="0 0 24 24"><path fill="#008000" d="M12,6V9L16,5L12,1V4A8,8 0 0,0 4,12C4,13.57 4.46,15.03 5.24,16.26L6.7,14.8C6.25,13.97 6,13 6,12A6,6 0 0,1 12,6M18.76,7.74L17.3,9.2C17.74,10.04 18,11 18,12A6,6 0 0,1 12,18V15L8,19L12,23V20A8,8 0 0,0 20,12C20,10.43 19.54,8.97 18.76,7.74Z"/></svg>
<svg class="ic" style="left:234px;top:286.6px;width:24px;height:24px" viewBox="0 0 24 24"><path fill="#bdbdbd" d="M11,2.7A1.6,1.6 0 0,1 12.6,4.3V10.6H13.4C13.6,10.6 13.8,10.64 14,10.72L18.9,13.1C19.5,13.35 19.85,13.95 19.8,14.55L19,20.2C18.9,20.95 18.3,21.5 17.5,21.5H10.3C9.9,21.5 9.5,21.33 9.2,21.05L3.3,15.3L4.15,14.45C4.4,14.2 4.75,14.08 5.1,14.15L9.4,15.1V4.3A1.6,1.6 0 0,1 11,2.7Z"/></svg>
<svg class="ic" style="left:280.7px;top:286.5px;width:24px;height:24px" viewBox="0 0 24 24"><path fill="#bdbdbd" d="M16.56,5.44L15.11,6.89C16.84,7.94 18,9.83 18,12A6,6 0 0,1 12,18A6,6 0 0,1 6,12C6,9.83 7.16,7.94 8.88,6.88L7.44,5.44C5.36,6.88 4,9.28 4,12A8,8 0 0,0 12,20A8,8 0 0,0 20,12C20,9.28 18.64,6.88 16.56,5.44M13,3H11V13H13"/></svg>
</section>
<section class="card simple-thermostat" style="left:1000px;top:580px;width:492px;height:248px">
<svg class="ic" style="left:16px;top:24px;width:24px;height:24px" viewBox="0 0 24 24"><path fill="#44739e" d="M7.95,3L6.53,5.19L7.95,7.4H7.94L5.95,10.5L4.22,9.6L5.64,7.39L4.22,5.19L6.22,2.09L7.95,3M13.95,2.89L12.53,5.1L13.95,7.3L13.94,7.31L11.95,10.4L10.22,9.5L11.64,7.3L10.22,5.1L12.22,2L13.95,2.89M20,2.89L18.56,5.1L20,7.3V7.31L18,10.4L16.25,9.5L17.67,7.3L16.25,5.1L18.25,2L20,2.89M2,22V14A2,2 0 0,1 4,12H20A2,2 0 0,1 22,14V22H20V20H4V22H2M6,14A1,1 0 0,0 5,15V17A1,1 0 0,0 6,18A1,1 0 0,0 7,17V15A1,1 0 0,0 6,14M10,14A1,1 0 0,0 9,15V17A1,1 0 0,0 10,18A1,1 0 0,0 11,17V15A1,1 0 0,0 10,14M14,14A1,1 0 0,0 13,15V17A1,1 0 0,0 14,18A1,1 0 0,0 15,17V15A1,1 0 0,0 14,14M18,14A1,1 0 0,0 17,15V17A1,1 0 0,0 18,18A1,1 0 0,0 19,17V15A1,1 0 0,0 18,14Z"/></svg>
<h2 class="t " style="top:19.80px;font-size:24px;line-height:31px;color:#414141;letter-spacing:-0.078px;left:48.4px;">Thermostat</h2>
<span class="t light" style="top:94.90px;font-size:14.8px;line-height:19px;color:#5a5a5a;letter-spacing:0.059px;left:149.159px;transform:translateX(-100%);">Temperature:</span>
<span class="t " style="top:94.90px;font-size:14.8px;line-height:19px;color:#2b2b2b;letter-spacing:-0.101px;left:160.8px;">21.1°C</span>
<span class="t light" style="top:121.70px;font-size:14.8px;line-height:19px;color:#5a5a5a;letter-spacing:-0.162px;left:148.938px;transform:translateX(-100%);">State:</span>
<span class="t " style="top:121.70px;font-size:14.8px;line-height:19px;color:#2b2b2b;left:160.8px;">Auto</span>
<span class="t light" style="top:148.50px;font-size:14.8px;line-height:19px;color:#5a5a5a;letter-spacing:0.100px;left:149.2px;transform:translateX(-100%);">Outdoor temp:</span>
<span class="t " style="top:148.50px;font-size:14.8px;line-height:19px;color:#2b2b2b;letter-spacing:-0.102px;left:160.8px;">15.2 °C</span>
<svg class="ic" style="left:346px;top:63.4px;width:41px;height:41px" viewBox="0 0 24 24"><path fill="#212121" d="M7.41,15.41L12,10.83L16.59,15.41L18,14L12,8L6,14L7.41,15.41Z"/></svg>
<svg class="ic" style="left:346px;top:159.5px;width:41px;height:41px" viewBox="0 0 24 24"><path fill="#212121" d="M7.41,8.58L12,13.17L16.59,8.58L18,10L12,16L6,10L7.41,8.58Z"/></svg>
<span class="t " style="top:93.50px;font-size:58.6px;line-height:76px;color:#2b2b2b;letter-spacing:-1.700px;left:312.8px;">20.5</span>
<span class="t " style="top:120.00px;font-size:19.2px;line-height:25px;color:#2b2b2b;letter-spacing:-0.700px;left:422.6px;">°C</span>
<div class="btn" style="left:117.4px;top:200.5px;width:93.2px;height:31px"></div>
<svg class="ic" style="left:133px;top:204px;width:24px;height:24px" viewBox="0 0 24 24"><path fill="#a8a8a8" d="M12,6V9L16,5L12,1V4A8,8 0 0,0 4,12C4,13.57 4.46,15.03 5.24,16.26L6.7,14.8C6.25,13.97 6,13 6,12A6,6 0 0,1 12,6M18.76,7.74L17.3,9.2C17.74,10.04 18,11 18,12A6,6 0 0,1 12,18V15L8,19L12,23V20A8,8 0 0,0 20,12C20,10.43 19.54,8.97 18.76,7.74Z"/></svg>
<span class="t " style="top:209.00px;font-size:11.5px;line-height:15px;color:#b8b8b8;left:161.8px;">AUTO</span>
<svg class="ic" style="left:218.6px;top:204px;width:24px;height:24px" viewBox="0 0 24 24"><path fill="#03a9f4" d="M11,2.7A1.6,1.6 0 0,1 12.6,4.3V10.6H13.4C13.6,10.6 13.8,10.64 14,10.72L18.9,13.1C19.5,13.35 19.85,13.95 19.8,14.55L19,20.2C18.9,20.95 18.3,21.5 17.5,21.5H10.3C9.9,21.5 9.5,21.33 9.2,21.05L3.3,15.3L4.15,14.45C4.4,14.2 4.75,14.08 5.1,14.15L9.4,15.1V4.3A1.6,1.6 0 0,1 11,2.7Z"/></svg>
<span class="t " style="top:209.00px;font-size:11.5px;line-height:15px;color:#03a9f4;font-weight:700;letter-spacing:0.162px;left:247.3px;">MANUAL</span>
<svg class="ic" style="left:314.9px;top:203.8px;width:24px;height:24px" viewBox="0 0 24 24"><path fill="#03a9f4" d="M16.56,5.44L15.11,6.89C16.84,7.94 18,9.83 18,12A6,6 0 0,1 12,18A6,6 0 0,1 6,12C6,9.83 7.16,7.94 8.88,6.88L7.44,5.44C5.36,6.88 4,9.28 4,12A8,8 0 0,0 12,20A8,8 0 0,0 20,12C20,9.28 18.64,6.88 16.56,5.44M13,3H11V13H13"/></svg>
<span class="t " style="top:209.00px;font-size:11.5px;line-height:15px;color:#03a9f4;font-weight:700;left:343.5px;">OFF</span>
</section>
</body></html>
